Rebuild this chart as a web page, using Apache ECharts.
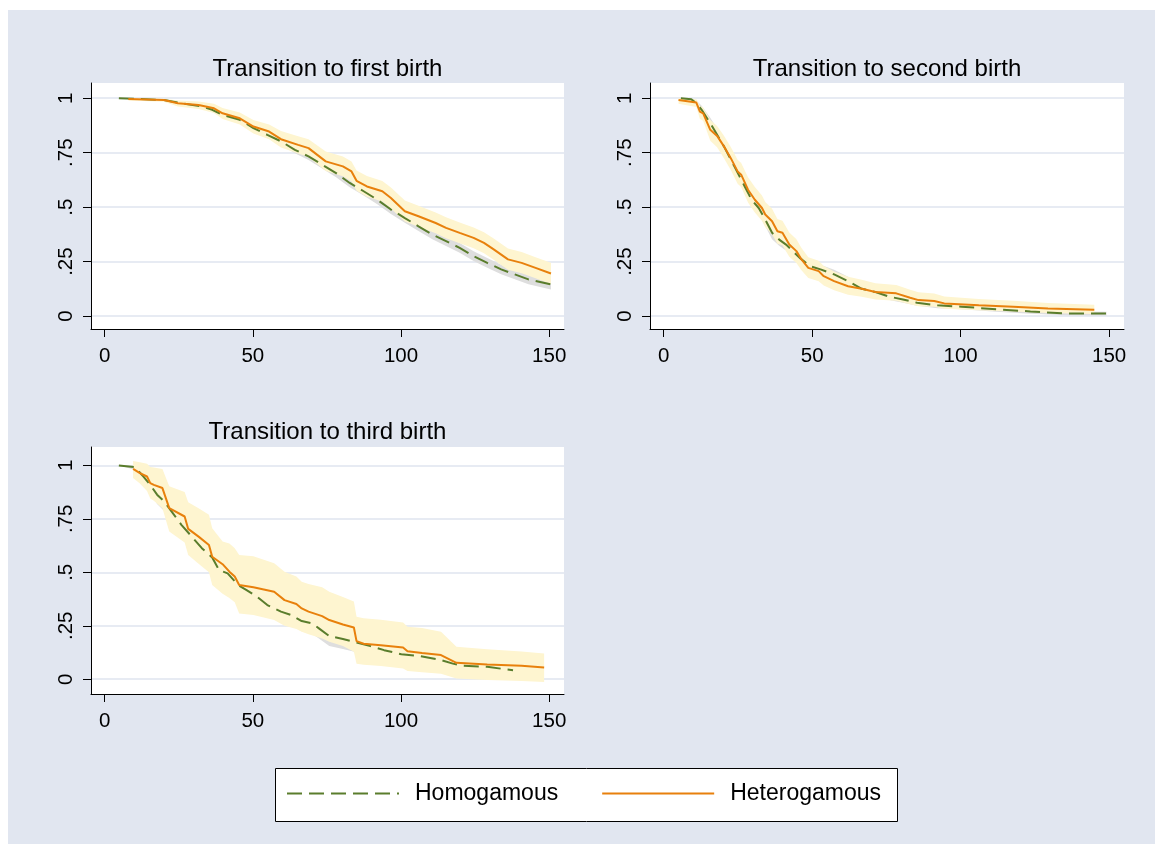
<!DOCTYPE html>
<html>
<head>
<meta charset="utf-8">
<script src="https://cdn.jsdelivr.net/npm/echarts@6/dist/echarts.min.js"></script>
<style>
html,body{margin:0;padding:0;background:#fff;}
#chart{width:1155px;height:844px;}
</style>
</head>
<body>
<div id="chart"></div>
<script>
// ---------------- DATA ----------------
const panelTitles = ['Transition to first birth', 'Transition to second birth', 'Transition to third birth'];
const groupNames = ['Homogamous', 'Heterogamous'];
const xTicks = [0, 50, 100, 150];
const yTicks = [0, 0.25, 0.5, 0.75, 1];
const yTickLabels = ['0', '.25', '.5', '.75', '1'];

// Panel 1: first birth
const p1HomX  = [4.8, 20, 25.9, 32.8, 36.3, 39.8, 45.6, 50.2, 54.9, 59.5, 64.2, 68.8, 73.4, 78.1, 82.7, 87.4, 92, 96.6, 101.3, 105.9, 110.6, 115.2, 119.8, 124.5, 129.1, 133.8, 138.4, 143, 150.6];
const p1HomS  = [1, .992, .977, .962, .947, .924, .901, .863, .832, .802, .763, .733, .695, .656, .611, .573, .534, .489, .450, .412, .374, .344, .313, .275, .244, .214, .191, .168, .145];
const p1HomHi = [1, .996, .984, .971, .957, .935, .913, .876, .846, .817, .779, .75, .713, .675, .631, .593, .555, .51, .472, .434, .396, .366, .335, .297, .266, .236, .213, .19, .168];
const p1HomLo = [1, .988, .97, .953, .937, .913, .889, .85, .818, .787, .747, .716, .677, .637, .591, .553, .513, .468, .428, .39, .352, .322, .291, .253, .222, .192, .169, .146, .122];
const p1HetX  = [8, 20, 24.7, 31.7, 36.9, 39.8, 45.6, 50.2, 55.5, 59.5, 65.3, 68.8, 74.6, 80.4, 83.3, 85, 88.5, 93.7, 96.6, 101.3, 105.9, 111.7, 115.2, 119.8, 124.5, 128, 131.4, 136.1, 140.7, 145.4, 150.6];
const p1HetS  = [.997, .992, .977, .969, .954, .931, .908, .870, .847, .812, .786, .771, .710, .687, .664, .621, .595, .573, .542, .481, .458, .427, .405, .382, .359, .336, .305, .260, .244, .221, .195];
const p1HetHi = [1.0, .998, .99, .985, .975, .955, .935, .9, .88, .85, .826, .812, .755, .732, .71, .668, .643, .62, .59, .53, .506, .475, .453, .43, .407, .385, .355, .31, .294, .27, .245];
const p1HetLo = [.99, .984, .962, .951, .932, .905, .879, .838, .812, .774, .746, .73, .666, .642, .618, .575, .548, .526, .494, .434, .41, .38, .357, .334, .311, .288, .257, .212, .196, .173, .147];

// Panel 2: second birth
const p2HomX  = [5.8, 9.3, 11, 12.8, 15.7, 18, 20.3, 23.8, 27.3, 29.6, 32, 34.2, 36.5, 38.9, 41.2, 43.5, 45.8, 49.3, 52.8, 57.4, 62.1, 66.7, 71.3, 75.9, 80.6, 85.3, 92.2, 100.3, 111.9, 123.5, 135.2, 149.1];
const p2HomS  = [1, .995, .977, .947, .885, .832, .779, .687, .595, .534, .496, .443, .382, .351, .328, .298, .267, .229, .214, .191, .160, .125, .110, .089, .076, .061, .049, .043, .031, .021, .012, .011];
const p2HomHi = [1, 1, .99, .965, .91, .86, .808, .717, .625, .564, .526, .473, .411, .379, .355, .324, .292, .252, .236, .212, .18, .143, .127, .105, .091, .075, .062, .055, .042, .031, .021, .02];
const p2HomLo = [1, .99, .964, .929, .86, .804, .75, .657, .565, .504, .466, .413, .353, .323, .301, .272, .242, .206, .192, .17, .14, .107, .093, .073, .061, .047, .036, .031, .02, .011, .003, .002];
const p2HetX  = [5, 11, 12.2, 13.3, 15.7, 18, 20.3, 22.6, 24.9, 26.1, 28.4, 30.7, 33.1, 34.2, 36.5, 38.3, 40, 42.3, 44.7, 46.4, 48.7, 52.2, 53.9, 57.4, 62.1, 66.7, 71.3, 78.3, 83, 85.8, 91.1, 94.5, 106.1, 117.7, 129.4, 145];
const p2HetS  = [.992, .980, .939, .931, .855, .827, .779, .725, .664, .649, .580, .534, .496, .466, .435, .389, .382, .328, .298, .260, .221, .206, .183, .160, .137, .125, .110, .104, .084, .073, .069, .058, .049, .043, .035, .029];
const p2HetHi = [1.0, .995, .965, .958, .9, .873, .828, .776, .718, .703, .637, .592, .553, .523, .492, .445, .438, .383, .352, .312, .27, .254, .23, .205, .18, .166, .15, .143, .121, .109, .103, .09, .078, .07, .06, .052];
const p2HetLo = [.975, .96, .905, .897, .805, .775, .725, .67, .607, .592, .521, .475, .437, .408, .376, .332, .325, .272, .243, .21, .175, .16, .14, .118, .098, .088, .076, .07, .054, .045, .042, .033, .026, .021, .014, .009];

// Panel 3: third birth
const p3HomX  = [4.8, 10.2, 13.1, 15.4, 17.7, 20.1, 23, 25.9, 29.4, 32.8, 36.3, 38.6, 41.5, 45, 47.9, 51.4, 54.9, 59.5, 63, 66.5, 70, 72.3, 75.8, 80.4, 85, 89.7, 94.3, 100.1, 105.9, 112.9, 117.5, 121, 129.1, 137.8];
const p3HomS  = [1, .992, .948, .909, .863, .831, .777, .722, .667, .613, .569, .511, .495, .441, .417, .386, .347, .316, .300, .272, .261, .238, .202, .188, .172, .155, .136, .117, .109, .092, .073, .063, .058, .042];
const p3HomHi = [1, 1, .975, .945, .905, .875, .825, .772, .717, .663, .619, .561, .545, .491, .467, .435, .396, .365, .349, .32, .309, .285, .249, .234, .218, .2, .179, .158, .15, .132, .111, .1, .094, .076];
const p3HomLo = [1, .98, .92, .873, .82, .787, .729, .672, .617, .563, .519, .461, .445, .391, .367, .337, .298, .267, .251, .224, .213, .191, .155, .142, .126, .11, .093, .076, .068, .052, .035, .026, .022, .008];
const p3HetX  = [9.6, 11.9, 14.3, 15.4, 16.6, 19.5, 21.8, 27, 28.2, 31.7, 35.2, 36.3, 39.8, 42.1, 43.9, 45.4, 50.2, 57.2, 60.7, 64.7, 66.5, 68.8, 73.4, 75.8, 80.4, 84.1, 85, 87.4, 93.2, 100.7, 102.2, 107.1, 113.5, 118.7, 129.1, 140.7, 148.3];
const p3HetS  = [.984, .964, .948, .917, .909, .894, .800, .761, .703, .667, .628, .573, .538, .503, .480, .441, .430, .409, .370, .352, .331, .316, .295, .277, .256, .242, .178, .166, .159, .148, .131, .123, .113, .077, .069, .063, .055];
const p3HetHi = [1.02, 1.015, 1.008, .992, .99, .983, .902, .875, .828, .8, .769, .706, .644, .635, .613, .581, .575, .542, .503, .48, .456, .445, .43, .409, .385, .363, .292, .285, .278, .265, .245, .24, .222, .152, .14, .13, .12];
const p3HetLo = [.941, .915, .88, .845, .835, .80, .691, .64, .581, .54, .50, .441, .40, .38, .36, .308, .30, .277, .25, .235, .222, .21, .19, .175, .155, .128, .073, .068, .062, .05, .038, .033, .026, .003, -.003, -.008, -.0125];

// ---------------- STYLE ----------------
const FONT = '"Liberation Sans", Arial, Helvetica, sans-serif';
const BG = '#e1e6f0';
const GREEN = '#5a7d2c';
const ORANGE = '#e8800c';
const YELLOW_CI = '#fef5d0';
const GRAY_CI = '#dedede';

const panels = [
  {title: panelTitles[0], hom: [p1HomX, p1HomS, p1HomLo, p1HomHi], het: [p1HetX, p1HetS, p1HetLo, p1HetHi],
   grid: {left: 91, top: 83, width: 473, height: 246}, yMin: -0.0596, yMax: 1.070, titleX: 327.5, titleTop: 57},
  {title: panelTitles[1], hom: [p2HomX, p2HomS, p2HomLo, p2HomHi], het: [p2HetX, p2HetS, p2HetLo, p2HetHi],
   grid: {left: 650, top: 83, width: 474, height: 246}, yMin: -0.0596, yMax: 1.070, titleX: 887, titleTop: 57},
  {title: panelTitles[2], hom: [p3HomX, p3HomS, p3HomLo, p3HomHi], het: [p3HetX, p3HetS, p3HetLo, p3HetHi],
   grid: {left: 91, top: 447, width: 473, height: 247}, yMin: -0.069, yMax: 1.086, titleX: 327.5, titleTop: 420}
];

function bandSeries(g, xs, lo, hi, color) {
  return {
    type: 'custom', name: 'ci', xAxisIndex: g, yAxisIndex: g, silent: true, z: 1,
    data: xs.map((x, i) => [x, lo[i], hi[i]]),
    encode: {x: 0, y: [1, 2]},
    renderItem: function (params, api) {
      if (params.dataIndex !== 0) return null;
      const pts = [];
      for (let i = 0; i < xs.length; i++) pts.push(api.coord([xs[i], hi[i]]));
      for (let i = xs.length - 1; i >= 0; i--) pts.push(api.coord([xs[i], lo[i]]));
      return {type: 'polygon', shape: {points: pts}, style: {fill: color, stroke: null}};
    }
  };
}

function lineSeries(g, name, xs, ys, color, dashed) {
  return {
    type: 'line', name: name, xAxisIndex: g, yAxisIndex: g, z: 3,
    data: xs.map((x, i) => [x, ys[i]]),
    symbol: 'none', showSymbol: false,
    lineStyle: {color: color, width: 2, type: dashed ? [15, 7] : 'solid'},
    itemStyle: {color: color}
  };
}

const grids = [], xAxes = [], yAxes = [], series = [], titles = [];
panels.forEach((p, g) => {
  grids.push(Object.assign({show: true, backgroundColor: '#fff', borderWidth: 0, containLabel: false}, p.grid));
  titles.push({text: p.title, left: p.titleX, top: p.titleTop, textAlign: 'center', padding: 0,
    textStyle: {fontFamily: FONT, fontSize: 24, fontWeight: 'normal', color: '#000'}});
  xAxes.push({
    type: 'value', gridIndex: g, min: -4.6, max: 155,
    axisLine: {show: true, onZero: false, lineStyle: {color: '#000', width: 1}},
    axisTick: {show: true, length: 8, customValues: xTicks, lineStyle: {color: '#000', width: 1}},
    axisLabel: {customValues: xTicks, fontFamily: FONT, fontSize: 20.5, color: '#000', margin: 17},
    splitLine: {show: false}
  });
  yAxes.push({
    type: 'value', gridIndex: g, min: p.yMin, max: p.yMax,
    axisLine: {show: true, onZero: false, lineStyle: {color: '#000', width: 1}},
    axisTick: {show: true, length: 8, customValues: yTicks, lineStyle: {color: '#000', width: 1}},
    axisLabel: {customValues: yTicks, rotate: 90, fontFamily: FONT, fontSize: 20.5, color: '#000', margin: 14,
      formatter: function (v) { const i = yTicks.findIndex(t => Math.abs(t - v) < 1e-9); return i >= 0 ? yTickLabels[i] : ''; }},
    splitLine: {show: true, lineStyle: {color: '#dfe4ef', width: 1.5}}
  });
  series.push(bandSeries(g, p.hom[0], p.hom[2], p.hom[3], GRAY_CI));
  series.push(bandSeries(g, p.het[0], p.het[2], p.het[3], YELLOW_CI));
  series.push(lineSeries(g, groupNames[0], p.hom[0], p.hom[1], GREEN, true));
  series.push(lineSeries(g, groupNames[1], p.het[0], p.het[1], ORANGE, false));
});

const chart = echarts.init(document.getElementById('chart'), null, {renderer: 'canvas'});
chart.setOption({
  animation: false,
  backgroundColor: '#fff',
  title: titles,
  grid: grids,
  xAxis: xAxes,
  yAxis: yAxes,
  legend: {
    data: groupNames, left: 286, top: 782, padding: 0, itemWidth: 112, itemHeight: 14, itemGap: 43,
    selectedMode: false,
    itemStyle: {color: 'rgba(0,0,0,0)', borderWidth: 0, borderColor: 'rgba(0,0,0,0)'},
    textStyle: {fontFamily: FONT, fontSize: 23, color: '#000', padding: [0, 0, 0, 11]}
  },
  graphic: [
    {type: 'rect', z: -10, silent: true, shape: {x: 8, y: 10, width: 1147, height: 834}, style: {fill: BG}},
    {type: 'rect', z: -5, silent: true, shape: {x: 275.5, y: 768.5, width: 622, height: 53}, style: {fill: '#fff', stroke: '#000', lineWidth: 1}}
  ],
  series: series
});
</script>
</body>
</html>
